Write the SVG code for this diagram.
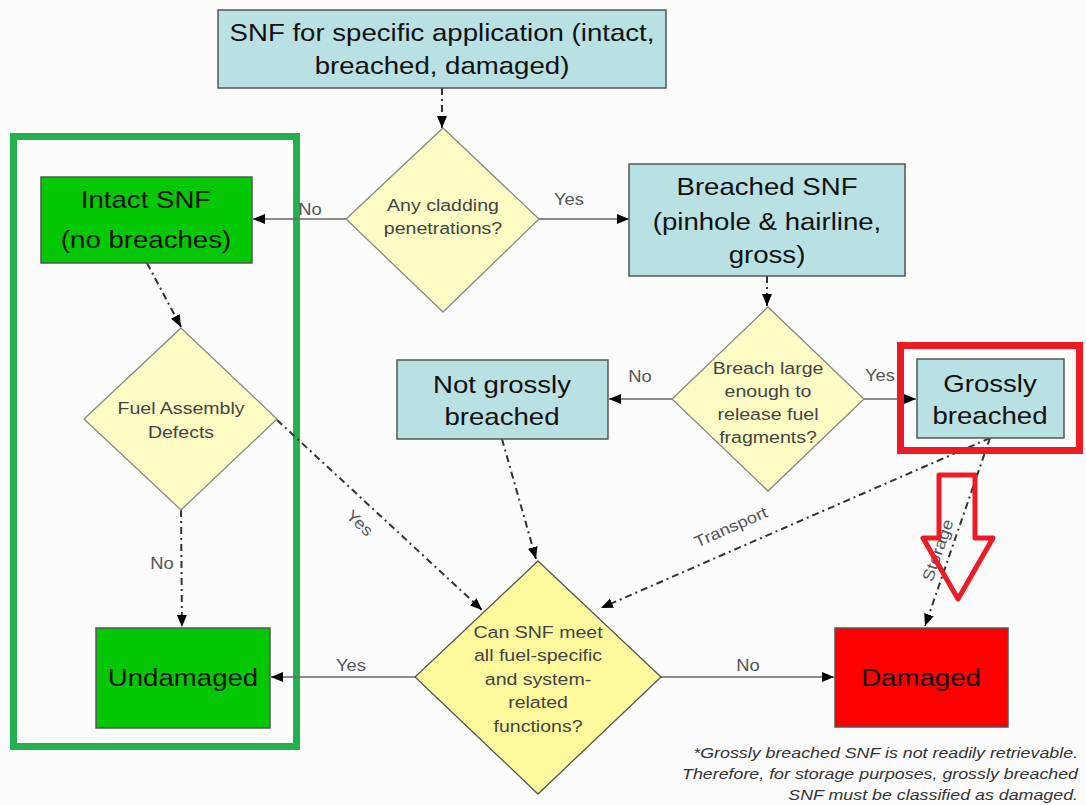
<svg xmlns="http://www.w3.org/2000/svg" width="1086" height="805" viewBox="0 0 1086 805">
  <style>
    .box { stroke: #555; stroke-width: 1.5; }
    .blue { fill: #b9e0e3; }
    .green { fill: #05c805; }
    .red { fill: #fe0000; }
    .dia { fill: #fdfcc4; stroke: #888; stroke-width: 1.3; }
    .dia2 { fill: #fdf99c; stroke: #555; stroke-width: 1.3; }
    .big { font-family: "Liberation Sans", Arial, sans-serif; font-size: 24px; fill: #111; text-anchor: middle; }
    .q { font-family: "Liberation Sans", Arial, sans-serif; font-size: 17px; fill: #444; text-anchor: middle; }
    .lbl { font-family: "Liberation Sans", Arial, sans-serif; font-size: 16px; fill: #555; text-anchor: middle; }
    .solid { stroke: #666; stroke-width: 1.5; fill: none; marker-end: url(#ah); }
    .dd { stroke: #333; stroke-width: 2; fill: none; stroke-dasharray: 7 4 2 4; marker-end: url(#ah); }
    .note { font-family: "Liberation Sans", Arial, sans-serif; font-size: 15.5px; font-style: italic; fill: #333; text-anchor: end; }
  </style>
  <defs>
    <marker id="ah" viewBox="0 0 12 10" refX="12" refY="5" markerWidth="12" markerHeight="10" markerUnits="userSpaceOnUse" orient="auto">
      <path d="M0,0 L12,5 L0,10 Z" fill="#000"/>
    </marker>
  </defs>

  <rect width="1086" height="805" fill="#fcfcfc"/>

  <!-- highlight frame round the intact branch -->
  <rect id="intact-frame" x="13.5" y="136.5" width="283" height="610" fill="none" stroke="#22b14c" stroke-width="7"/>

  <!-- connectors (text is widened slightly with scale(1.15,1)) -->
  <g id="connectors">
    <path class="dd" d="M442,88 L442,128"/>
    <path class="solid" d="M346,219 L253,219"/>
    <path class="solid" d="M539,219 L629,219"/>
    <path class="dd" d="M767,276 L767,306"/>
    <path class="dd" d="M147,263 L181,327"/>
    <path class="solid" d="M672,399 L609,399"/>
    <path class="solid" d="M864,399 L916,399"/>
    <path class="dd" d="M181,510 L182,627"/>
    <path class="dd" d="M277,420 L482,610"/>
    <path class="dd" d="M502,439 L536,559"/>
    <path class="dd" d="M990,438 L601,608"/>
    <path class="dd" d="M990,438 L925,626"/>
    <path class="solid" d="M415,677 L271,677"/>
    <path class="solid" d="M661,677 L834,677"/>
    <text class="lbl" transform="translate(310,215) scale(1.15,1)">No</text>
    <text class="lbl" transform="translate(569,205) scale(1.15,1)">Yes</text>
    <text class="lbl" transform="translate(640,382) scale(1.15,1)">No</text>
    <text class="lbl" transform="translate(880,381) scale(1.15,1)">Yes</text>
    <text class="lbl" transform="translate(162,569) scale(1.15,1)">No</text>
    <text class="lbl" transform="translate(351,671) scale(1.15,1)">Yes</text>
    <text class="lbl" transform="translate(748,671) scale(1.15,1)">No</text>
    <text class="lbl" transform="translate(356,527) rotate(43) scale(1.15,1)">Yes</text>
    <text class="lbl" transform="translate(733,532) rotate(-23.7) scale(1.15,1)">Transport</text>
    <text class="lbl" transform="translate(943,552) rotate(-70.6) scale(1.15,1)">Storage</text>
  </g>

  <g id="n-start">
    <rect class="box blue" x="218" y="10" width="448" height="78"/>
    <text class="big" transform="translate(442,41) scale(1.15,1)">SNF for specific application (intact,</text>
    <text class="big" transform="translate(442,74) scale(1.15,1)">breached, damaged)</text>
  </g>

  <g id="n-cladding">
    <polygon class="dia" points="443,128 539,219 443,312 346,219"/>
    <text class="q" transform="translate(443,211) scale(1.15,1)">Any cladding</text>
    <text class="q" transform="translate(443,234) scale(1.15,1)">penetrations?</text>
  </g>

  <g id="n-intact">
    <rect class="box green" x="41" y="177" width="211" height="86"/>
    <text class="big" transform="translate(146,208) scale(1.15,1)">Intact SNF</text>
    <text class="big" transform="translate(146,248) scale(1.15,1)">(no breaches)</text>
  </g>

  <g id="n-breached">
    <rect class="box blue" x="629" y="164" width="276" height="112"/>
    <text class="big" transform="translate(767,195) scale(1.15,1)">Breached SNF</text>
    <text class="big" transform="translate(767,230) scale(1.15,1)">(pinhole &amp; hairline,</text>
    <text class="big" transform="translate(767,263) scale(1.15,1)">gross)</text>
  </g>

  <g id="n-fad">
    <polygon class="dia" points="181,328 277,419 181,510 84,419"/>
    <text class="q" transform="translate(181,414) scale(1.15,1)">Fuel Assembly</text>
    <text class="q" transform="translate(181,438) scale(1.15,1)">Defects</text>
  </g>

  <g id="n-large">
    <polygon class="dia" points="768,307 864,399 768,491 672,399"/>
    <text class="q" transform="translate(768,374) scale(1.15,1)">Breach large</text>
    <text class="q" transform="translate(768,397) scale(1.15,1)">enough to</text>
    <text class="q" transform="translate(768,420) scale(1.15,1)">release fuel</text>
    <text class="q" transform="translate(768,443) scale(1.15,1)">fragments?</text>
  </g>

  <g id="n-notgross">
    <rect class="box blue" x="397" y="360" width="211" height="79"/>
    <text class="big" transform="translate(502,393) scale(1.15,1)">Not grossly</text>
    <text class="big" transform="translate(502,425) scale(1.15,1)">breached</text>
  </g>

  <g id="n-gross">
    <rect class="box blue" x="917" y="359" width="147" height="79"/>
    <text class="big" transform="translate(990,392) scale(1.15,1)">Grossly</text>
    <text class="big" transform="translate(990,424) scale(1.15,1)">breached</text>
    <rect x="900.5" y="345.5" width="179" height="105" fill="none" stroke="#ed1c24" stroke-width="7"/>
  </g>

  <g id="n-functions">
    <polygon class="dia2" points="538,561 661,677 538,794 415,677"/>
    <text class="q" transform="translate(538,638) scale(1.15,1)">Can SNF meet</text>
    <text class="q" transform="translate(538,661) scale(1.15,1)">all fuel-specific</text>
    <text class="q" transform="translate(538,685) scale(1.15,1)">and system-</text>
    <text class="q" transform="translate(538,708) scale(1.15,1)">related</text>
    <text class="q" transform="translate(538,732) scale(1.15,1)">functions?</text>
  </g>

  <g id="n-undamaged">
    <rect class="box green" x="96" y="628" width="174" height="100"/>
    <text class="big" transform="translate(183,686) scale(1.15,1)">Undamaged</text>
  </g>

  <g id="n-damaged">
    <rect class="box red" x="835" y="628" width="173" height="99"/>
    <text class="big" transform="translate(921,686) scale(1.15,1)">Damaged</text>
  </g>

  <!-- hollow red arrow pointing at the storage route -->
  <path id="storage-pointer" d="M939,475 L975,475 L975,538 L993,538 L958,599 L923,538 L939,538 Z" fill="none" stroke="#ed1c24" stroke-width="5" stroke-linejoin="round"/>

  <g id="footnote">
    <text class="note" transform="translate(1078,758) scale(1.15,1)">*Grossly breached SNF is not readily retrievable.</text>
    <text class="note" transform="translate(1078,779) scale(1.15,1)">Therefore, for storage purposes, grossly breached</text>
    <text class="note" transform="translate(1078,800) scale(1.15,1)">SNF must be classified as damaged.</text>
  </g>
</svg>
